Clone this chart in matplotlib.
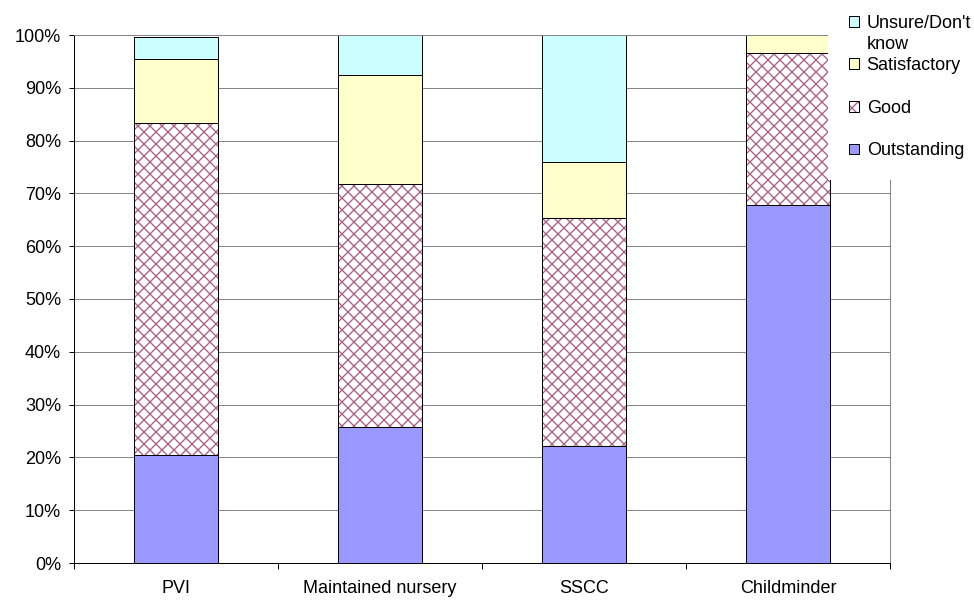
import numpy as np
import matplotlib
matplotlib.use("Agg")
import matplotlib.pyplot as plt
from matplotlib.patches import Patch
from matplotlib.ticker import FuncFormatter

categories = ["PVI", "Maintained nursery", "SSCC", "Childminder"]
outstanding = [20.5, 25.8, 22.2, 67.8]
good = [62.8, 46.0, 43.1, 28.8]
satisfactory = [12.1, 20.6, 10.6, 3.4]
unsure = [4.3, 7.6, 24.1, 0.0]

C_OUT = "#9999FF"
C_GOOD = "#A85C84"
C_SAT = "#FFFFCC"
C_UNS = "#CCFFFF"
FS = 18

plt.rcParams["font.family"] = ["Liberation Sans", "DejaVu Sans"]
plt.rcParams["hatch.linewidth"] = 1.3

DPI = 72
fig = plt.figure(figsize=(974 / DPI, 601 / DPI), dpi=DPI)
ax = fig.add_axes([74 / 974, 1 - 563 / 601, (890 - 74) / 974, (563 - 35) / 601])

x = np.arange(len(categories))
w = 0.41
out = np.array(outstanding)
gd = np.array(good)
sat = np.array(satisfactory)
uns = np.array(unsure)

ax.bar(x, out, w, color=C_OUT, edgecolor="black", linewidth=1, zorder=2)
ax.bar(x, gd, w, bottom=out, color="white", edgecolor=C_GOOD, hatch="xx",
       linewidth=0, zorder=2)
ax.bar(x, gd, w, bottom=out, color="none", edgecolor="black", linewidth=1, zorder=3)
ax.bar(x, sat, w, bottom=out + gd, color=C_SAT, edgecolor="black", linewidth=1, zorder=2)
ax.bar(x[uns > 0], uns[uns > 0], w, bottom=(out + gd + sat)[uns > 0], color=C_UNS,
       edgecolor="black", linewidth=1, zorder=2)

ax.set_xlim(-0.5, len(categories) - 0.5)
ax.set_ylim(0, 100)
ax.set_yticks(np.arange(0, 101, 10))
ax.yaxis.set_major_formatter(FuncFormatter(lambda v, p: f"{v:.0f}%"))
ax.set_xticks(x)
ax.set_xticklabels(categories)
ax.set_xticks(np.arange(-0.5, len(categories)), minor=True)
ax.tick_params(axis="x", which="major", length=0, pad=17, labelsize=FS)
ax.tick_params(axis="x", which="minor", length=6, width=1, direction="out")
ax.tick_params(axis="y", length=5, width=1, pad=8, labelsize=FS)

ax.yaxis.grid(True, color="#868686", linewidth=1)
ax.set_axisbelow(True)
for s in ("top", "right"):
    ax.spines[s].set_color("#868686")
    ax.spines[s].set_linewidth(1)
for s in ("left", "bottom"):
    ax.spines[s].set_color("black")
    ax.spines[s].set_linewidth(1)

# legend: Excel wraps "Unsure/Don't know" without moving the other entries,
# so the second line is added as plain text under the first label
handles = [
    Patch(facecolor=C_UNS, edgecolor="black", linewidth=1),
    Patch(facecolor=C_SAT, edgecolor="black", linewidth=1),
    (Patch(facecolor="white", edgecolor=C_GOOD, hatch="xx", linewidth=0),
     Patch(facecolor="none", edgecolor="black", linewidth=1)),
    Patch(facecolor=C_OUT, edgecolor="black", linewidth=1),
]
labels = ["Unsure/Don't", "Satisfactory", "Good", "Outstanding"]
leg = fig.legend(handles, labels, loc="upper left",
                 bbox_to_anchor=(828 / 974, 1 + 6 / 601), fontsize=FS,
                 frameon=True, facecolor="white", edgecolor="none", fancybox=False,
                 framealpha=1, borderpad=1.15, borderaxespad=0,
                 handlelength=0.55, handleheight=0.55, handletextpad=0.45,
                 labelspacing=1.42)

fig.canvas.draw()
bb = leg.get_texts()[0].get_window_extent(fig.canvas.get_renderer())
fig.text(bb.x0 / fig.bbox.width, (bb.y0 + bb.y1) / 2 / fig.bbox.height - 21 / 601,
         "know", fontsize=FS, va="center", ha="left", zorder=10)

fig.savefig("out.png", dpi=DPI)
